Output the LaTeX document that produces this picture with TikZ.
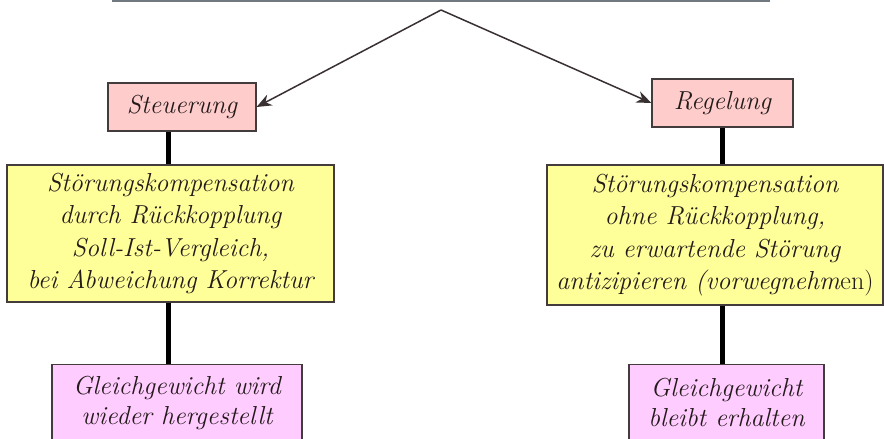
\documentclass[tikz,border=0pt]{standalone}
\usepackage{fontspec}
\usetikzlibrary{arrows.meta,calc}
\definecolor{rosefill}{HTML}{FFCCCC}
\definecolor{lemonfill}{HTML}{FFFF99}
\definecolor{lilacfill}{HTML}{FFCCFF}
\definecolor{rulegray}{HTML}{707880}
\definecolor{inkcol}{HTML}{231A1A}
\tikzset{
  box/.style={draw=inkcol!85, line width=1.2pt, inner sep=0pt, align=center,
    text=inkcol, font=\itshape\fontsize{26}{32.5}\selectfont},
  headbox/.style={box, fill=rosefill},
  notebox/.style={box, fill=lemonfill},
  endbox/.style={box, fill=lilacfill, anchor=north, font=\itshape\fontsize{26}{30}\selectfont},
  branch/.style={draw=inkcol!90, line width=1.5pt, -{Stealth[length=15pt,width=12pt]}},
  stem/.style={draw=black, line width=5pt},
}
\begin{document}
\begin{tikzpicture}[x=1pt,y=-1pt]
\clip (0,0) rectangle (884,439);
\useasboundingbox (0,0) rectangle (884,439);
\fill[white] (0,0) rectangle (884,439);

% rule at the top edge and the fork point below it
\draw[rulegray, line width=2pt] (112,1) -- (770,1);
\coordinate (fork) at (441,10);

% first level
\node[headbox, minimum width=148pt, minimum height=48pt] (steu) at (182,107) {Steuerung};
\node[headbox, minimum width=141pt, minimum height=48pt] (regel) at (722.5,103) {Regelung};

% second level
\node[notebox, minimum width=327pt, minimum height=137pt] (kompL) at (170.5,233.5)
  {Störungskompensation\\durch Rückkopplung\\Soll-Ist-Vergleich,\\bei Abweichung Korrektur};
\node[notebox, minimum width=336pt, minimum height=140pt] (kompR) at (715,235)
  {Störungskompensation\\ohne Rückkopplung,\\zu erwartende Störung\\antizipieren (vorwegnehm\textup{en)}};

% third level, running off the lower edge
\node[endbox, minimum width=250pt, minimum height=76pt] (gleichL) at (177,364)
  {Gleichgewicht wird\\wieder hergestellt};
\node[endbox, minimum width=195pt, minimum height=76pt] (gleichR) at (726.5,364)
  {Gleichgewicht\\bleibt erhalten};

% connectors
\coordinate (leftstem) at (168,0);
\draw[branch] (fork) -- (steu.east);
\draw[branch] (fork) -- (regel.west);
\draw[stem] (steu.south -| leftstem) -- (kompL.north -| leftstem);
\draw[stem] (kompL.south -| leftstem) -- (gleichL.north -| leftstem);
\draw[stem] (regel.south) -- (kompR.north -| regel.south);
\draw[stem] (kompR.south -| regel.south) -- (gleichR.north -| regel.south);
\end{tikzpicture}
\end{document}
